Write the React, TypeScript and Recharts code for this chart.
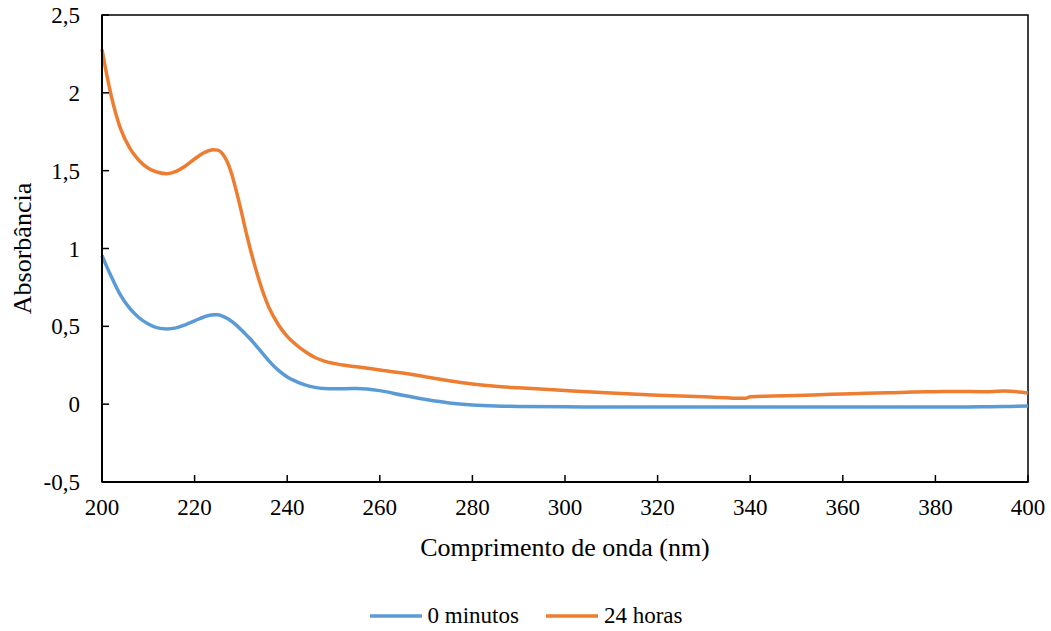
import { LineChart, Line, XAxis, YAxis, ReferenceArea, Legend } from "recharts";

const wavelengths = [
  200, 201, 202, 204, 206, 208, 210, 212, 214, 216, 218, 220, 222, 224, 225, 226, 227, 228, 229, 230,
  231, 232, 233, 234, 235, 236, 238, 240, 242, 244, 246, 248, 250, 255, 260, 265, 270, 275, 280,
  285, 290, 300, 310, 320, 330, 339, 340, 345, 350, 355, 360, 365, 370, 375, 380,
  385, 390, 395, 400,
];

const minutos0 = [
  0.955, 0.885, 0.82, 0.7, 0.615, 0.555, 0.515, 0.49, 0.483, 0.49, 0.51, 0.535, 0.56, 0.575, 0.574, 0.566, 0.552, 0.532, 0.508, 0.48,
  0.45, 0.42, 0.385, 0.35, 0.315, 0.28, 0.22, 0.175, 0.145, 0.122, 0.108, 0.101, 0.099, 0.1, 0.087, 0.057, 0.03, 0.008, -0.005,
  -0.012, -0.015, -0.017, -0.018, -0.018, -0.018, -0.018, -0.018, -0.018, -0.018, -0.018, -0.018, -0.018, -0.018, -0.018, -0.018,
  -0.018, -0.017, -0.015, -0.012,
];

const horas24 = [
  2.28, 2.12, 1.98, 1.77, 1.645, 1.565, 1.515, 1.49, 1.48, 1.495, 1.53, 1.575, 1.615, 1.635, 1.632, 1.61, 1.56, 1.48, 1.37, 1.25,
  1.12, 1.0, 0.89, 0.79, 0.7, 0.625, 0.515, 0.435, 0.38, 0.335, 0.3, 0.277, 0.262, 0.24, 0.22, 0.2, 0.175, 0.15, 0.13,
  0.115, 0.105, 0.088, 0.072, 0.058, 0.047, 0.038, 0.048, 0.052, 0.056, 0.06, 0.066, 0.07, 0.073, 0.078, 0.08,
  0.082, 0.08, 0.084, 0.072,
];

const xTicks = [200, 220, 240, 260, 280, 300, 320, 340, 360, 380, 400];
const yTicks = [-0.5, 0, 0.5, 1, 1.5, 2, 2.5];

const data = wavelengths.map((x, i) => ({ x, a: minutos0[i], b: horas24[i] }));

const font = "Times New Roman, Liberation Serif, DejaVu Serif, serif";
const BLUE = "#5B9BD5";
const ORANGE = "#ED7D31";

const fmt = (v: number) => String(v).replace(".", ",");

// y-axis title, centred on the plot's height
function YLabel(props: any) {
  const vb = props.viewBox || { y: 15, height: 467 };
  const cy = vb.y + vb.height / 2;
  return (
    <text x={22} y={cy} transform={`rotate(-90 22 ${cy})`} textAnchor="middle" dominantBaseline="central" fill="#000" fontSize={26} fontFamily={font}>
      Absorbância
    </text>
  );
}

function LegendContent() {
  const items = [
    { label: "0 minutos", color: BLUE },
    { label: "24 horas", color: ORANGE },
  ];
  return (
    <div style={{ display: "flex", justifyContent: "center", gap: 26, fontFamily: font, fontSize: 23, color: "#000" }}>
      {items.map((it) => (
        <div key={it.label} style={{ display: "flex", alignItems: "center" }}>
          <svg width={54} height={10} style={{ marginRight: 5 }}>
            <line x1={1} y1={5} x2={53} y2={5} stroke={it.color} strokeWidth={3.5} />
          </svg>
          <span>{it.label}</span>
        </div>
      ))}
    </div>
  );
}

export default function App() {
  return (
    <div style={{ position: "absolute", left: 0, top: 0, background: "#fff", fontFamily: font }}>
      <LineChart width={1051} height={631} data={data} margin={{ top: 15, right: 23, left: 0, bottom: 99 }}>
        <ReferenceArea x1={200} x2={400} y1={-0.5} y2={2.5} fill="none" stroke="#000" strokeWidth={1.5} />
        <XAxis
          dataKey="x"
          type="number"
          domain={[200, 400]}
          ticks={xTicks}
          height={50}
          axisLine={{ stroke: "#000", strokeWidth: 2 }}
          tickLine={{ stroke: "#000", strokeWidth: 1.5 }}
          tickSize={-7}
          tickMargin={24}
          tick={{ fill: "#000", fontSize: 23, fontFamily: font }}
          label={{ value: "Comprimento de onda (nm)", position: "insideBottom", offset: -24, fill: "#000", fontSize: 26, fontFamily: font }}
        />
        <YAxis
          type="number"
          domain={[-0.5, 2.5]}
          ticks={yTicks}
          width={102}
          tickFormatter={fmt}
          axisLine={{ stroke: "#000", strokeWidth: 2 }}
          tickLine={{ stroke: "#000", strokeWidth: 1.5 }}
          tickSize={-7}
          tickMargin={29}
          tick={{ fill: "#000", fontSize: 23, fontFamily: font }}
          label={<YLabel />}
        />
        <Line type="monotone" dataKey="a" stroke={BLUE} strokeWidth={3.5} dot={false} isAnimationActive={false} />
        <Line type="monotone" dataKey="b" stroke={ORANGE} strokeWidth={3.5} dot={false} isAnimationActive={false} />
        <Legend layout="horizontal" verticalAlign="middle" align="center" wrapperStyle={{ top: 603, left: 0, width: 1051 }} content={<LegendContent />} />
      </LineChart>
    </div>
  );
}
